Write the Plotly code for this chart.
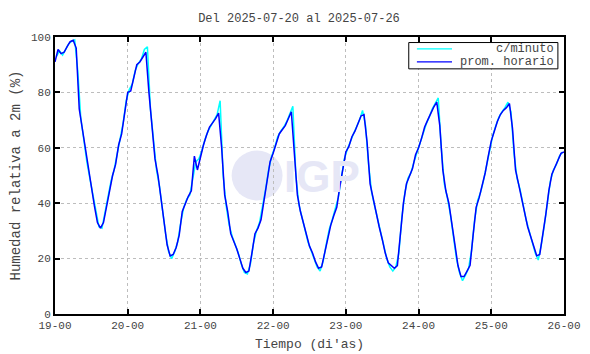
import plotly.graph_objects as go
import pandas as pd

start = "2025-07-19 00:00"

# hourly averages (prom. horario), hours 0..23 per day
hourly_19 = [91, 95.5, 94, 94.5, 96.5, 98.3, 98.8, 96, 74, 67, 60, 52, 46, 39, 33, 31, 33, 39, 45, 50, 54, 61, 65, 73]
hourly_20 = [80, 80.5, 85, 90, 91, 93, 94.5, 80, 69, 56, 50, 42, 33, 25, 21, 21.5, 24, 28.5, 37, 40, 42.5, 44.5, 57, 52]
hourly_21 = [57, 61, 64.5, 67.5, 69, 70.5, 72.5, 60, 43, 37, 29, 26.5, 23.5, 20, 16.5, 15, 15.5, 22, 29, 31, 34, 41, 48.5, 55]
hourly_22 = [58, 62, 65, 66.5, 68, 70.5, 73, 58, 43, 37, 33, 28, 24.5, 22, 18.8, 16.5, 17, 22, 27.5, 32, 35.5, 38.5, 46, 52.5]
hourly_23 = [58.5, 60.5, 64, 66, 68.5, 71.5, 72, 62, 47, 41.5, 37, 31.5, 27, 22, 18.5, 17.5, 16.5, 17.5, 30, 40, 47, 50, 52.5, 57.5]
hourly_24 = [60, 63.5, 67.5, 70, 72.5, 74.7, 76.5, 68, 52, 44.5, 40, 32, 24, 17.5, 13.5, 13.5, 15.5, 17.6, 28.5, 38.5, 42, 46, 51, 57]
hourly_25 = [62.5, 66, 69.5, 72, 73.5, 74.5, 76, 67, 52, 47, 42, 36.5, 31.5, 28, 24, 21, 21.5, 28, 36, 44.5, 50.5, 53, 55.5, 58]
hourly_end = [58.5]

# minute readings (c/minuto), sampled at half past each hour
minute_19 = [93, 95, 93.5, 95.5, 97.5, 98.5, 99, 88, 71, 63, 55, 49, 43, 36, 31.5, 31, 36.5, 42, 48, 52, 58, 63, 69, 77]
minute_20 = [81, 83, 88, 90.5, 92, 95.5, 96.5, 74, 62, 52, 46, 37, 29, 22.5, 20, 22.5, 26, 33, 38.5, 41.5, 43, 49, 55, 56]
minute_21 = [59, 63, 66, 68, 70, 72, 77, 50, 39, 32, 28, 25, 22, 18, 15, 14.5, 18, 25.5, 30, 33, 38.5, 45, 52, 57]
minute_22 = [60, 64, 66, 67.5, 69.5, 72, 75, 50, 39.5, 35, 30.5, 26, 23, 20, 17, 15.5, 19, 25, 30.5, 34, 38, 42, 49, 56]
minute_23 = [59.5, 62.5, 65, 67.5, 70, 73.5, 68, 54, 44, 39, 34, 29, 24.5, 20, 17, 15.5, 17, 22, 35, 44, 49, 51, 55, 58.5]
minute_24 = [62, 65.5, 68.5, 71, 74, 76, 78, 60, 47, 42, 36, 28, 20, 15, 12, 14, 16.5, 23, 34, 41, 44, 48.5, 54, 60]
minute_25 = [64.5, 68, 71, 73, 74.5, 76.5, 73, 58, 49, 45, 39, 34, 30, 26, 22, 19.5, 25, 32, 40, 48, 52, 54, 57, 58.5]

tick_labels = ["19-00", "20-00", "21-00", "22-00", "23-00", "24-00", "25-00", "26-00"]
legend_names = ["c/minuto", "prom. horario"]
colors = ["#00ffff", "#0000ff"]

hourly = hourly_19 + hourly_20 + hourly_21 + hourly_22 + hourly_23 + hourly_24 + hourly_25 + hourly_end
minute = minute_19 + minute_20 + minute_21 + minute_22 + minute_23 + minute_24 + minute_25

t_hour = pd.date_range(start, periods=len(hourly), freq="h")
t_min = pd.date_range("2025-07-19 00:30", periods=len(minute), freq="h")
tick_vals = pd.date_range(start, periods=len(tick_labels), freq="D")

mono = "Liberation Mono, DejaVu Sans Mono, monospace"
txt = "#444444"
grid = "#bdbdbd"

fig = go.Figure()
fig.add_trace(go.Scatter(x=t_min, y=minute, mode="lines", name=legend_names[0],
                         line=dict(color=colors[0], width=1.5), showlegend=False))
fig.add_trace(go.Scatter(x=t_hour, y=hourly, mode="lines", name=legend_names[1],
                         line=dict(color=colors[1], width=1.5), showlegend=False))

# watermark
fig.add_shape(type="circle", xref="paper", yref="paper", x0=0.347, x1=0.447, y0=0.41, y1=0.59,
              fillcolor="#e6e7f6", line=dict(width=0), layer="below")
fig.add_annotation(x=0.525, y=0.495, xref="paper", yref="paper", text="<b>IGP</b>", showarrow=False,
                   font=dict(family="Liberation Sans, Arial", size=44, color="#e6e7f6"))

# legend box (drawn manually to match compact gnuplot-style key)
fig.add_shape(type="rect", xref="paper", yref="paper", x0=0.695, x1=0.988, y0=0.885, y1=0.98,
              fillcolor="white", line=dict(color="black", width=1), layer="above")
for i, (nm, col) in enumerate(zip(legend_names, colors)):
    yy = 0.957 - i * 0.047
    fig.add_shape(type="line", xref="paper", yref="paper", x0=0.711, x1=0.78, y0=yy, y1=yy,
                  line=dict(color=col, width=1.2), layer="above")
    fig.add_annotation(x=0.984, y=yy, xref="paper", yref="paper", text=nm, showarrow=False,
                       xanchor="right", yanchor="middle",
                       font=dict(family=mono, size=12, color=txt))

# page has an 8px default body margin, so the figure is sized/margined to compensate
fig.update_layout(
    width=582, height=346,
    margin=dict(l=47, r=26, t=29, b=40),
    plot_bgcolor="white", paper_bgcolor="white",
    title=dict(text="Del 2025-07-20 al 2025-07-26", x=0.5, xanchor="center", y=0.971, yanchor="middle",
               font=dict(family=mono, size=12, color=txt)),
    showlegend=False,
    xaxis=dict(range=[tick_vals[0], tick_vals[-1]], tickvals=tick_vals, ticktext=tick_labels,
               showgrid=True, gridcolor=grid, griddash="dot", gridwidth=1,
               showline=True, linecolor="black", linewidth=2, mirror="ticks",
               ticks="inside", ticklen=5, tickcolor="black", tickwidth=1.5,
               tickfont=dict(family=mono, size=11, color=txt), automargin=False,
               title=dict(text="Tiempo (di'as)", font=dict(family=mono, size=13, color=txt), standoff=8),
               zeroline=False),
    yaxis=dict(range=[0, 100], tickvals=[0, 20, 40, 60, 80, 100],
               showgrid=True, gridcolor=grid, griddash="dot", gridwidth=1,
               showline=True, linecolor="black", linewidth=2, mirror="ticks",
               ticks="inside", ticklen=5, tickcolor="black", tickwidth=1.5,
               tickfont=dict(family=mono, size=11, color=txt), automargin=False,
               title=dict(text="Humedad relativa a 2m (%)", font=dict(family=mono, size=14, color=txt), standoff=10),
               zeroline=False),
)

fig.write_html("out.html")
